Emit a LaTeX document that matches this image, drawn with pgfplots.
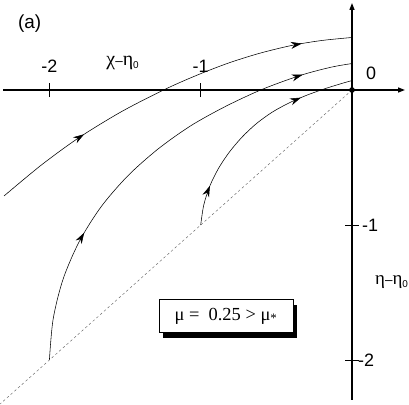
\documentclass[border=0pt]{standalone}
\usepackage{fontspec}
\setmainfont{Liberation Sans}
\newfontfamily\greek{Liberation Serif}
\newfontfamily\helv{Liberation Sans}
\usepackage{pgfplots}
\pgfplotsset{compat=1.18}
\usetikzlibrary{arrows.meta,decorations.markings,shadows}

\tikzset{
  flowtip/.tip={Stealth[length=11bp,width=7bp]},
  flow/.style 2 args={black, line width=0.55bp, smooth, tension=0.5,
    postaction={decorate},
    decoration={markings,
      mark=at position #1 with {\arrow{flowtip}},
      mark=at position #2 with {\arrow{flowtip}}}},
}
% axis title: greek - greek_0
\newcommand{\diffzero}[2]{#1{\helv\fontsize{13.5}{14}\selectfont –}#2%
  \raisebox{-3bp}{\helv\fontsize{10}{10}\selectfont 0}}

\begin{document}
\begin{tikzpicture}
\begin{axis}[
  scale only axis,
  width=409bp, height=405bp,
  xmin=-2.3265, xmax=0.3767,
  ymin=-2.3333, ymax=0.6667,
  axis lines=middle,
  axis line style={line width=1.3bp, -{Triangle[length=7bp,width=5bp]}},
  x axis line style={shorten <=3bp, shorten >=4bp},
  y axis line style={shorten <=5bp, shorten >=3bp},
  xtick={-2,-1}, ytick={-2,-1},
  xticklabels={}, yticklabels={},
  major tick length=14bp, tick align=center,
  tick style={line width=1bp, black},
  clip=false,
  font=\fontsize{18}{21}\selectfont,
]

% dashed diagonal eta = chi
\addplot[gray!80!black, line width=0.45bp, dash pattern=on 2.5bp off 2.5bp]
  coordinates {(0,0) (-2.3265,-2.3265)};

% top trajectory
\addplot[flow={0.26}{0.87}]
  coordinates {(-2.300,-0.785) (-2.049,-0.552) (-1.798,-0.348) (-1.520,-0.158)
    (-1.236,0.005) (-1.024,0.110) (-0.813,0.201) (-0.601,0.275) (-0.390,0.332)
    (-0.198,0.367) (0,0.389)};

% middle trajectory
\addplot[flow={0.29}{0.89}]
  coordinates {(-2,-2) (-1.975,-1.695) (-1.909,-1.399) (-1.801,-1.119) (-1.657,-0.863)
    (-1.481,-0.635) (-1.282,-0.437) (-1.066,-0.265) (-0.835,-0.121) (-0.593,0.005)
    (-0.339,0.109) (-0.138,0.169) (0,0.196)};

% lower trajectory
\addplot[flow={0.18}{0.76}]
  coordinates {(-1,-1) (-0.980,-0.853) (-0.940,-0.712) (-0.882,-0.580) (-0.810,-0.459)
    (-0.726,-0.348) (-0.632,-0.249) (-0.527,-0.164) (-0.413,-0.094) (-0.293,-0.036)
    (-0.167,0.014) (-0.069,0.048) (0,0.070)};

% fixed point
\addplot[only marks, mark=*, mark size=2.6bp, black] coordinates {(0,0)};

% tick labels
\node[anchor=base] at (axis cs:-2,0) [yshift=18bp] {-2};
\node[anchor=base] at (axis cs:-1,0) [yshift=18bp] {-1};
\node[anchor=base west, inner sep=0pt] at (axis cs:0,0) [xshift=14bp, yshift=11bp] {0};
\node[anchor=west, inner sep=0pt] at (axis cs:0,-1) [xshift=10bp] {-1};
\node[anchor=west, inner sep=0pt] at (axis cs:0,-2) [xshift=6bp] {-2};

% axis titles
\node[anchor=base west, font=\greek\fontsize{20}{23}\selectfont, inner sep=0pt]
  at (axis cs:-1.624,0) [yshift=25bp] {\diffzero{χ}{η}};
\node[anchor=base west, font=\greek\fontsize{19}{22}\selectfont, inner sep=0pt]
  at (axis cs:0,-1.444) [xshift=23bp] {\diffzero{η}{η}};
\node[anchor=center, font=\fontsize{19}{22}\selectfont] at (axis cs:-2.131,0.489) {(a)};

% parameter box
\node[draw, fill=white, line width=0.8bp, minimum width=134bp, minimum height=33bp,
  inner xsep=6bp,
  drop shadow={shadow xshift=4.5bp, shadow yshift=-5.5bp, fill=black, opacity=1},
  font=\greek\fontsize{18.5}{21}\selectfont]
  at (axis cs:-0.833,-1.674) {μ =\ \ 0.25 > μ\textsubscript{*}};

\end{axis}
\pgfresetboundingbox
\path[use as bounding box] (current axis.south west) rectangle (current axis.north east);
\end{tikzpicture}
\end{document}
